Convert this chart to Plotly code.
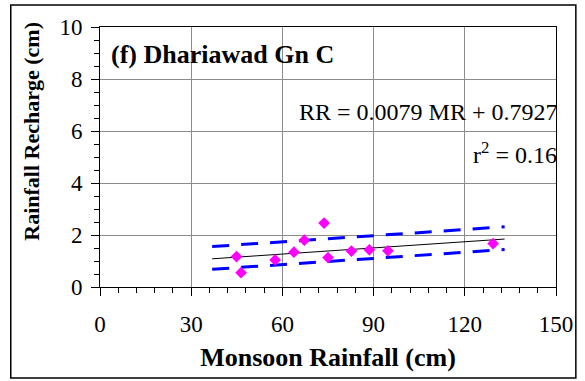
import plotly.graph_objects as go

# Data
mr = [44.9, 46.4, 57.6, 63.8, 67.2, 73.7, 75.0, 82.7, 88.6, 94.7, 129.3]
rr = [1.17, 0.55, 1.04, 1.34, 1.80, 2.46, 1.13, 1.38, 1.43, 1.39, 1.67]
slope = 0.0079
intercept = 0.7927
fit_x = [36.9, 133.1]
band_x = [36.9, 133.1]
band_upper = [1.555, 2.314]
band_lower = [0.681, 1.44]
x_ticks = [0, 30, 60, 90, 120, 150]
y_ticks = [0, 2, 4, 6, 8, 10]

FONT = "Liberation Serif"

fig = go.Figure()
fig.add_trace(go.Scatter(x=band_x, y=band_upper, mode="lines",
                         line=dict(color="#0000FF", width=3, dash="17px,12px"),
                         showlegend=False, hoverinfo="skip"))
fig.add_trace(go.Scatter(x=band_x, y=band_lower, mode="lines",
                         line=dict(color="#0000FF", width=3, dash="17px,12px"),
                         showlegend=False, hoverinfo="skip"))
fig.add_trace(go.Scatter(x=fit_x, y=[slope * v + intercept for v in fit_x], mode="lines",
                         line=dict(color="black", width=1),
                         showlegend=False))
fig.add_trace(go.Scatter(x=mr, y=rr, mode="markers",
                         marker=dict(symbol="diamond", size=9, color="#FF00FF"),
                         showlegend=False))

axis_common = dict(
    showline=True, linecolor="black", linewidth=1, mirror=True,
    showgrid=True, gridcolor="#8c8c8c", gridwidth=1,
    ticks="outside", tickcolor="black", ticklen=8, tickwidth=1,
    zeroline=False,
    tickfont=dict(family=FONT, size=23, color="black"),
)

fig.update_xaxes(**axis_common, range=[0, 150], tickvals=x_ticks, ticklabelstandoff=8,
                 minor=dict(dtick=6, ticks="outside", ticklen=5, tickcolor="black", showgrid=False),
                 title=dict(text="<b>Monsoon Rainfall (cm)</b>",
                            font=dict(family=FONT, size=26, color="black"), standoff=12))
fig.update_yaxes(**axis_common, range=[0, 10], tickvals=y_ticks, ticklabelstandoff=4,
                 minor=dict(dtick=0.5, ticks="outside", ticklen=5, tickcolor="black", showgrid=False))

# y-axis title (placed as in the reference, shifted above the plot centre)
fig.add_annotation(x=-0.152, y=0.6, xref="paper", yref="paper", text="<b>Rainfall Recharge (cm)</b>",
                   showarrow=False, textangle=-90, xanchor="center", yanchor="middle",
                   font=dict(family=FONT, size=22, color="black"))

fig.add_annotation(x=3.0, y=8.95, xref="x", yref="y", text="<b>(f) Dhariawad Gn C</b>",
                   showarrow=False, xanchor="left", yanchor="middle",
                   font=dict(family=FONT, size=26, color="black"))
fig.add_annotation(x=149.0, y=6.75, xref="x", yref="y", xshift=6, text="RR = 0.0079 MR + 0.7927",
                   showarrow=False, xanchor="right", yanchor="middle",
                   font=dict(family=FONT, size=24, color="black"))
fig.add_annotation(x=149.0, y=5.17, xref="x", yref="y", xshift=6, text="r<sup>2</sup> = 0.16",
                   showarrow=False, xanchor="right", yanchor="middle",
                   font=dict(family=FONT, size=24, color="black"))

# outer frame
fig.add_shape(type="rect", xref="paper", yref="paper",
              x0=-0.1957, x1=1.0435, y0=-0.35, y1=1.0846,
              line=dict(color="black", width=1.5), layer="below")

fig.update_layout(
    width=585, height=381,
    margin=dict(l=100, r=25, t=27, b=94),
    plot_bgcolor="white", paper_bgcolor="white",
    font=dict(family=FONT, color="black"),
    showlegend=False,
)

fig.write_html("out.html")
